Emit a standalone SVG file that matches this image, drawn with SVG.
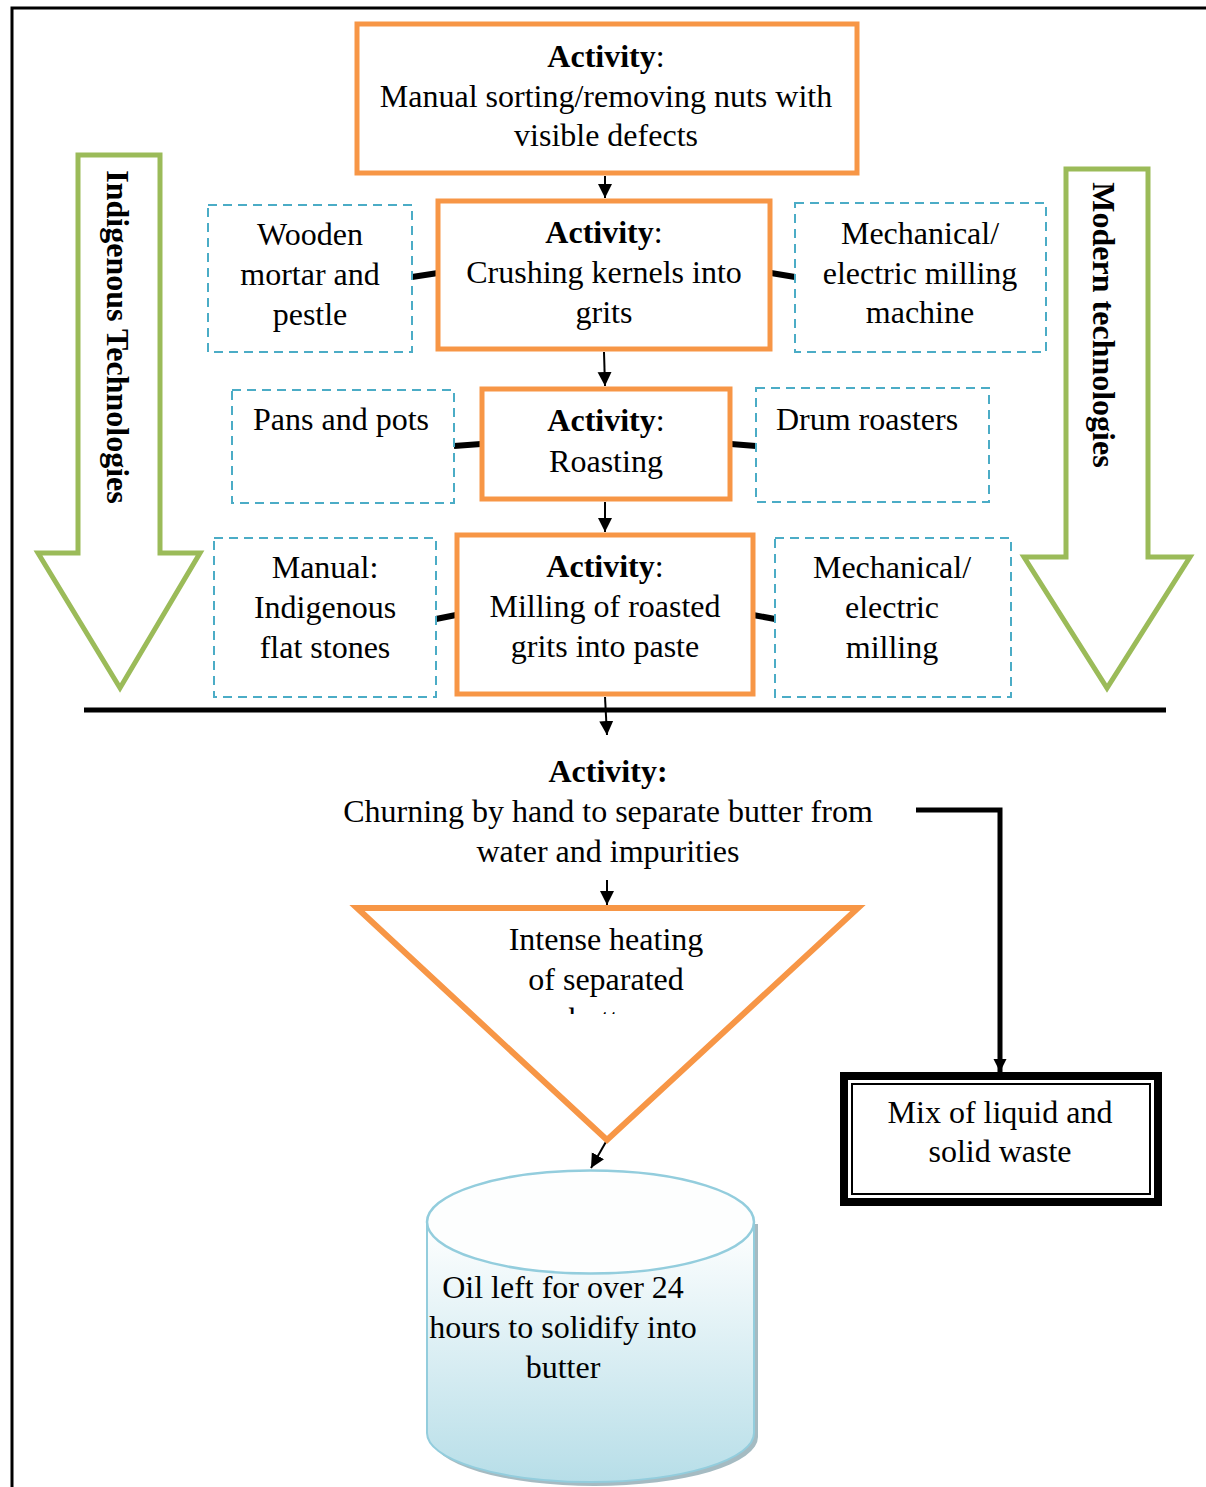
<svg xmlns="http://www.w3.org/2000/svg" width="1206" height="1487" viewBox="0 0 1206 1487">
<style>
text{font-family:"Liberation Serif","Times New Roman",serif;font-size:32px;fill:#000;text-anchor:middle}
.b{font-weight:bold}
.act{fill:#fff;stroke:#F79646;stroke-width:5}
.dash{fill:#fff;stroke:#4BACC6;stroke-width:2;stroke-dasharray:9 6}
.green{fill:#fff;stroke:#9BBB59;stroke-width:5}
.link{stroke:#000;stroke-width:6;fill:none}
.arr{stroke:#000;stroke-width:2;fill:none;marker-end:url(#ah)}
</style>
<defs>
<marker id="ah" viewBox="0 0 10 10" refX="10" refY="5" markerWidth="7" markerHeight="8" markerUnits="strokeWidth" orient="auto">
<path d="M0,0 L10,5 L0,10 z" fill="#000"/>
</marker>
<marker id="ahb" viewBox="0 0 10 10" refX="10" refY="5" markerWidth="2.6" markerHeight="3.6" markerUnits="strokeWidth" orient="auto">
<path d="M0,0 L10,5 L0,10 z" fill="#000"/>
</marker>
<linearGradient id="cyl" x1="0" y1="0" x2="0" y2="1">
<stop offset="0" stop-color="#ffffff"/>
<stop offset="1" stop-color="#B7DEE8"/>
</linearGradient>
<clipPath id="triclip"><rect x="350" y="900" width="520" height="114"/></clipPath>
</defs>

<g id="frame">
<path d="M12,1487 V8 H1206" fill="none" stroke="#000" stroke-width="3"/>
</g>

<g id="indigenous-arrow">
<path class="green" d="M78,155 H160 V553 H200 L120,688 L38,553 H78 Z"/>
<text class="b" transform="translate(107,337) rotate(90)">Indigenous Technologies</text>
</g>
<g id="modern-arrow">
<path class="green" d="M1066,169 H1148 V557 H1190 L1107,688 L1024,557 H1066 Z"/>
<text class="b" transform="translate(1093,325) rotate(90)">Modern technologies</text>
</g>

<g id="connectors">
<line class="arr" x1="605" y1="176" x2="605" y2="198"/>
<line class="arr" x1="604" y1="352" x2="605" y2="386"/>
<line class="arr" x1="605" y1="502" x2="605" y2="532"/>
<line class="arr" x1="605" y1="697" x2="607" y2="735"/>
<line class="arr" x1="607" y1="880" x2="607" y2="905"/>
<line class="arr" x1="607" y1="1140" x2="591" y2="1168"/>
<line class="link" x1="412" y1="277" x2="438" y2="273"/>
<line class="link" x1="771" y1="273" x2="795" y2="277"/>
<line class="link" x1="454" y1="446" x2="481" y2="444"/>
<line class="link" x1="731" y1="444" x2="756" y2="446"/>
<line class="link" x1="436" y1="619" x2="456" y2="615"/>
<line class="link" x1="753" y1="615" x2="775" y2="619"/>
<line x1="84" y1="710" x2="1166" y2="710" stroke="#000" stroke-width="5"/>
<path d="M916,810 H1000 V1072" fill="none" stroke="#000" stroke-width="5" marker-end="url(#ahb)"/>
</g>

<g id="sorting">
<rect class="act" x="357" y="24" width="500" height="149"/>
<text x="606" y="67"><tspan class="b">Activity</tspan>:</text>
<text x="606" y="107">Manual sorting/removing nuts with</text>
<text x="606" y="146">visible defects</text>
</g>

<g id="crushing">
<rect class="act" x="438" y="201" width="332" height="148"/>
<text x="604" y="243"><tspan class="b">Activity</tspan>:</text>
<text x="604" y="283">Crushing kernels into</text>
<text x="604" y="323">grits</text>
</g>
<g id="wooden">
<rect class="dash" x="208" y="205" width="204" height="147"/>
<text x="310" y="245">Wooden</text>
<text x="310" y="285">mortar and</text>
<text x="310" y="325">pestle</text>
</g>
<g id="milling-machine">
<rect class="dash" x="795" y="203" width="251" height="149"/>
<text x="920" y="244">Mechanical/</text>
<text x="920" y="284">electric milling</text>
<text x="920" y="323">machine</text>
</g>

<g id="roasting">
<rect class="act" x="482" y="389" width="248" height="110"/>
<text x="606" y="431"><tspan class="b">Activity</tspan>:</text>
<text x="606" y="472">Roasting</text>
</g>
<g id="pans">
<rect class="dash" x="232" y="390" width="222" height="113"/>
<text x="341" y="430">Pans and pots</text>
</g>
<g id="drum">
<rect class="dash" x="756" y="388" width="233" height="114"/>
<text x="867" y="430">Drum roasters</text>
</g>

<g id="milling">
<rect class="act" x="457" y="535" width="296" height="159"/>
<text x="605" y="577"><tspan class="b">Activity</tspan>:</text>
<text x="605" y="617">Milling of roasted</text>
<text x="605" y="657">grits into paste</text>
</g>
<g id="stones">
<rect class="dash" x="214" y="538" width="222" height="159"/>
<text x="325" y="578">Manual:</text>
<text x="325" y="618">Indigenous</text>
<text x="325" y="658">flat stones</text>
</g>
<g id="electric-milling">
<rect class="dash" x="775" y="538" width="236" height="159"/>
<text x="892" y="578">Mechanical/</text>
<text x="892" y="618">electric</text>
<text x="892" y="658">milling</text>
</g>

<g id="churning">
<text class="b" x="608" y="782">Activity:</text>
<text x="608" y="822">Churning by hand to separate butter from</text>
<text x="608" y="862">water and impurities</text>
</g>

<g id="heating">
<path d="M357,908 H858 L607,1140 Z" fill="#fff" stroke="#F79646" stroke-width="6" stroke-linejoin="miter"/>
<text x="606" y="950">Intense heating</text>
<text x="606" y="990">of separated</text>
<text x="606" y="1030" clip-path="url(#triclip)">butter</text>
</g>

<g id="oil">
<path d="M431,1224 V1437 A163.5,49 0 0 0 758,1437 V1224 Z" fill="#8FAAB3" opacity="0.8"/>
<path d="M427,1222 V1433 A163.5,49 0 0 0 754,1433 V1222 Z" fill="url(#cyl)" stroke="#93CDDD" stroke-width="2"/>
<ellipse cx="590.5" cy="1222" rx="163.5" ry="51.5" fill="#fdfefe" stroke="#93CDDD" stroke-width="2.5"/>
<text x="563" y="1298">Oil left for over 24</text>
<text x="563" y="1338">hours to solidify into</text>
<text x="563" y="1378">butter</text>
</g>

<g id="waste">
<rect x="844" y="1076" width="314" height="126" fill="#fff" stroke="#000" stroke-width="8"/>
<rect x="852" y="1084" width="298" height="110" fill="none" stroke="#000" stroke-width="2"/>
<text x="1000" y="1123">Mix of liquid and</text>
<text x="1000" y="1162">solid waste</text>
</g>
</svg>
